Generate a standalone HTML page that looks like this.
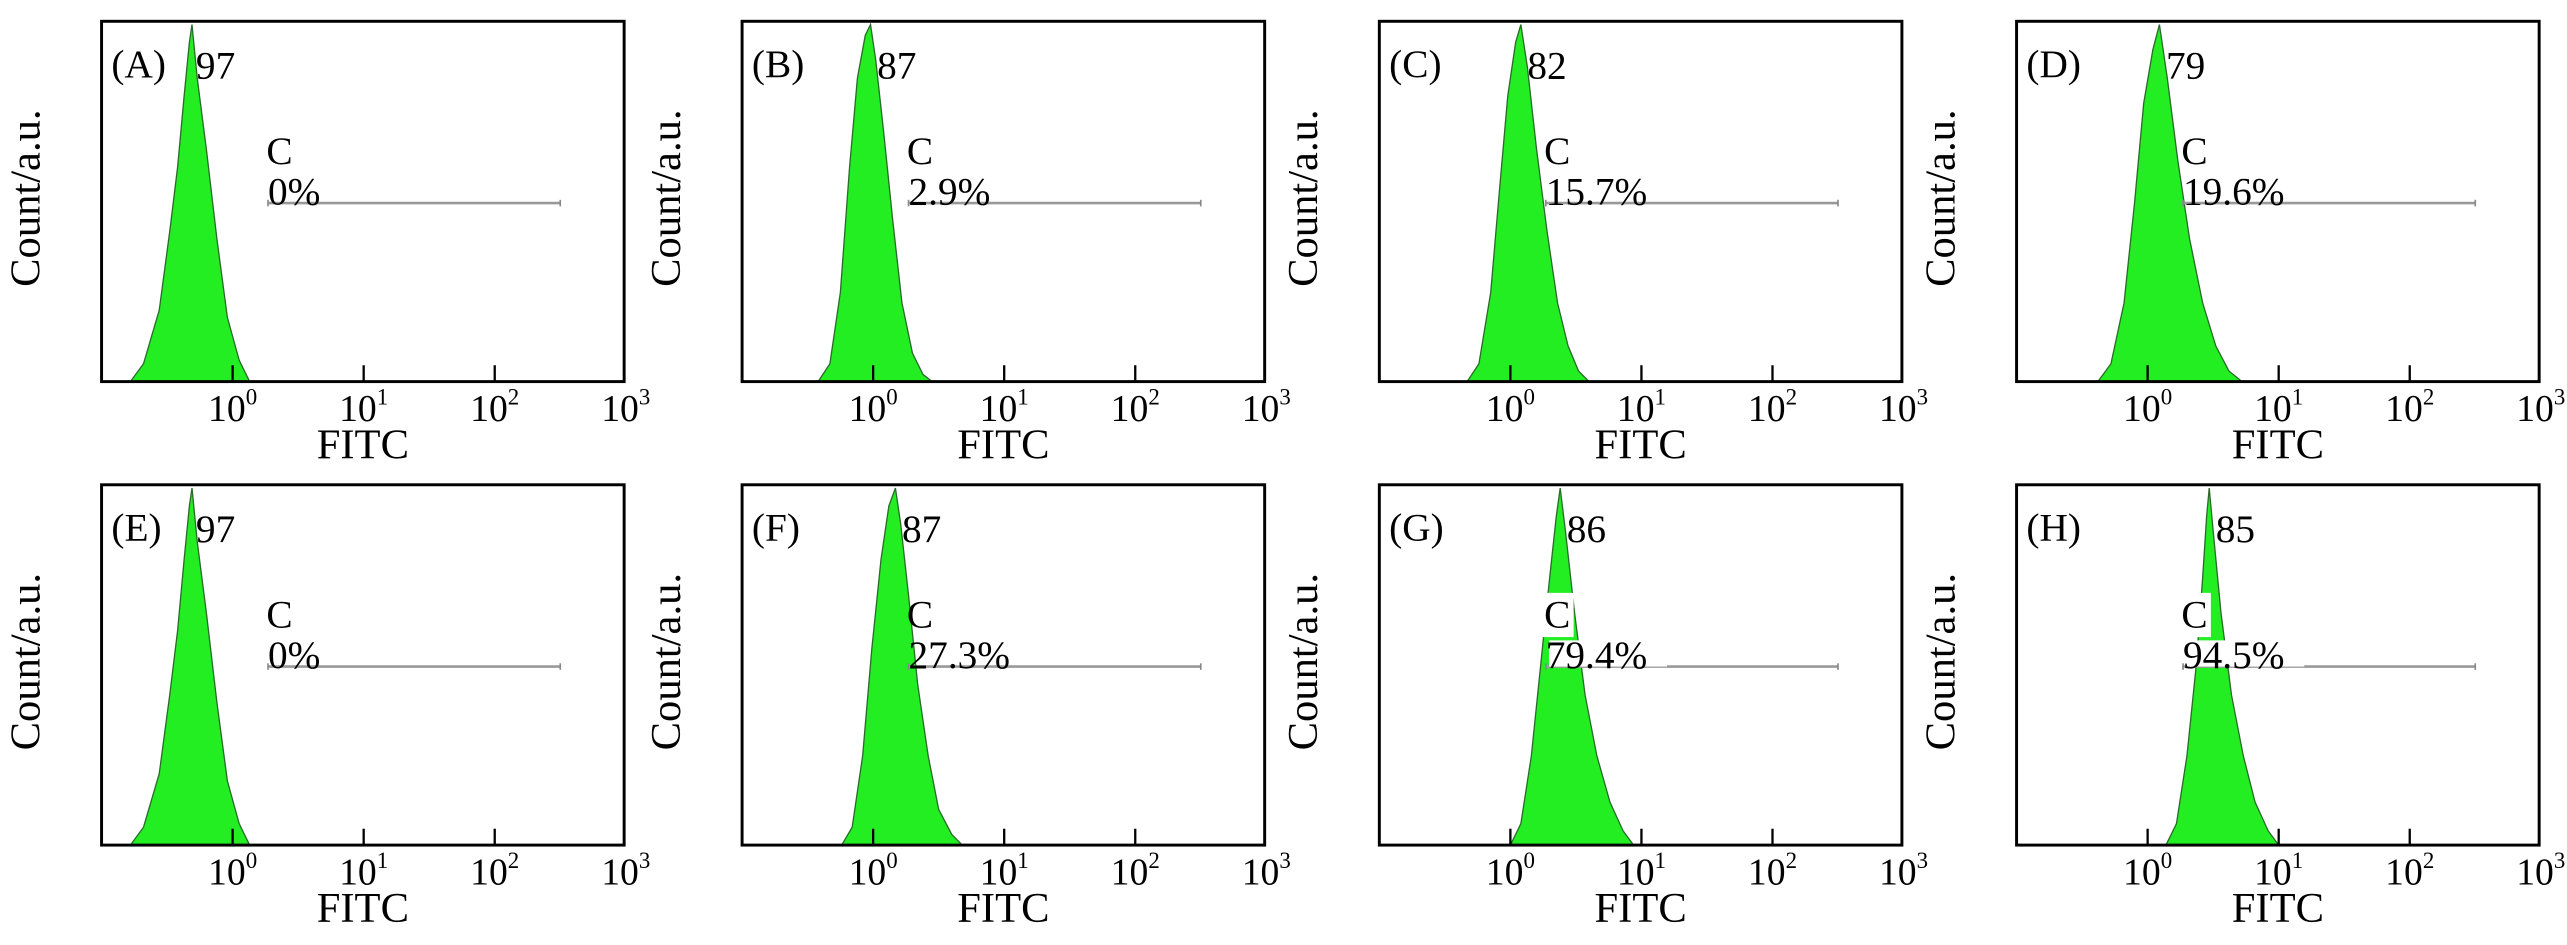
<!DOCTYPE html>
<html><head><meta charset="utf-8"><style>
html,body{margin:0;padding:0;background:#fff;}
svg{display:block;font-family:"Liberation Serif",serif;}
</style></head><body>
<svg id="fig" width="2567" height="945" viewBox="0 0 1567 577" preserveAspectRatio="none" xmlns="http://www.w3.org/2000/svg"></svg>
<script>
const panelLetters = ["A","B","C","D","E","F","G","H"];
const peakCounts = ["97","87","82","79","97","87","86","85"];
const gatePercents = ["0%","2.9%","15.7%","19.6%","0%","27.3%","79.4%","94.5%"];
const tickLabels = ["0","1","2","3"];
const tickLogs = [0,1,2,3];
const gateStartLog = 0.27;
const gateEndLog = 2.5;
const logA = [-0.78,-0.68,-0.56,-0.48,-0.42,-0.37,-0.33,-0.31,-0.27,-0.2,-0.12,-0.04,0.05,0.13];
const cntA = [0,5,20,42,60,80,95,100,85,65,40,18,6,0];
const logB = [-0.42,-0.33,-0.25,-0.18,-0.12,-0.06,-0.02,0.02,0.08,0.15,0.22,0.3,0.38,0.45];
const cntB = [0,5,25,60,85,97,100,90,70,45,22,8,2,0];
const logC = [-0.33,-0.24,-0.15,-0.08,-0.02,0.04,0.08,0.13,0.2,0.28,0.36,0.44,0.52,0.6];
const cntC = [0,5,25,55,80,95,100,88,65,42,22,10,3,0];
const logD = [-0.38,-0.28,-0.18,-0.1,-0.03,0.04,0.09,0.15,0.23,0.32,0.42,0.52,0.62,0.72];
const cntD = [0,5,22,50,78,93,100,85,62,40,22,10,3,0];
const logE = [-0.78,-0.68,-0.56,-0.48,-0.42,-0.37,-0.33,-0.31,-0.27,-0.2,-0.12,-0.04,0.05,0.13];
const cntE = [0,5,20,42,60,80,95,100,85,65,40,18,6,0];
const logF = [-0.24,-0.16,-0.08,-0.01,0.06,0.12,0.17,0.21,0.27,0.34,0.42,0.5,0.6,0.68];
const cntF = [0,5,25,55,80,95,100,90,70,45,25,10,3,0];
const logG = [0.0,0.08,0.16,0.23,0.3,0.35,0.38,0.42,0.49,0.57,0.66,0.76,0.86,0.94];
const cntG = [0,6,25,50,75,92,100,88,65,42,25,12,4,0];
const logH = [0.14,0.22,0.3,0.37,0.42,0.45,0.47,0.5,0.56,0.64,0.73,0.82,0.92,1.0];
const cntH = [0,6,25,50,75,92,100,88,65,42,25,12,4,0];
const allLogs = [logA,logB,logC,logD,logE,logF,logG,logH];
const allCnts = [cntA,cntB,cntC,cntD,cntE,cntF,cntG,cntH];

const NS = "http://www.w3.org/2000/svg";
const svg = document.getElementById("fig");
function mk(tag, attrs, parent){
  const e = document.createElementNS(NS, tag);
  for (const k in attrs) e.setAttribute(k, attrs[k]);
  (parent||svg).appendChild(e);
  return e;
}
const lefts = [62,453,842,1231];
const tops = [13,296];
const W = 319, H = 220;

for (let i=0;i<8;i++){
  const L = lefts[i%4], T = tops[Math.floor(i/4)], B = T+H;
  const g = mk("g",{});
  
  
  const xs = v => L + 80 + v*80;
  const ys = c => B - c/100*(H-2);
  let d = "M"+xs(allLogs[i][0])+","+B;
  allLogs[i].forEach((v,j)=>{ d += " L"+xs(v).toFixed(1)+","+ys(allCnts[i][j]).toFixed(1); });
  d += " L"+xs(allLogs[i][allLogs[i].length-1])+","+B+" Z";
  const hist = mk("path",{d:d,fill:"#22ee22",stroke:"#2a6a2a","stroke-width":0.8},g);
  
  
  const gy = T + 111;
  const gate = mk("line",{x1:xs(gateStartLog),x2:xs(gateEndLog),y1:gy,y2:gy,stroke:"#999","stroke-width":1.6},g);
  
  
  mk("line",{x1:xs(gateStartLog),x2:xs(gateStartLog),y1:gy-2,y2:gy+2,stroke:"#888","stroke-width":1},g);
  mk("line",{x1:xs(gateEndLog),x2:xs(gateEndLog),y1:gy-2,y2:gy+2,stroke:"#888","stroke-width":1},g);
  const gx = xs(gateStartLog);
  if (i>=6){
    mk("rect",{x:gx-2,y:T+66,width:19,height:27,fill:"#fff"},g);
    mk("rect",{x:gx+2,y:T+95,width:72,height:16,fill:"#fff"},g);
  }
  const cT = mk("text",{x:gx-1,y:T+87,"font-size":24},g); cT.textContent="C";
  
  
  const pT = mk("text",{x:gx,y:T+112,"font-size":24},g); pT.textContent=gatePercents[i];
  
  
  const fr = mk("rect",{x:L,y:T,width:W,height:H,fill:"none",stroke:"#000","stroke-width":1.8},g);
  
  
  const lT = mk("text",{x:L+6,y:T+34,"font-size":24},g); lT.textContent="("+panelLetters[i]+")";
  
  
  const pkX = xs(allLogs[i][6]) + 4;
  const kT = mk("text",{x:pkX,y:T+35,"font-size":24},g); kT.textContent=peakCounts[i];
  
  
  tickLogs.forEach((t,j)=>{
    const tx = xs(t);
    if (j<3) mk("line",{x1:tx,x2:tx,y1:B,y2:B-10,stroke:"#000","stroke-width":1.4},g);
    const tt = mk("text",{x:tx-15,y:B+24,"font-size":23},g);
    
    
    tt.textContent = "10";
    const sup = mk("tspan",{dy:-10,"font-size":14},tt); sup.textContent = tickLabels[j];
  });
  const ft = mk("text",{x:L+W/2,y:B+47,"font-size":26,"text-anchor":"middle"},g); ft.textContent="FITC";
  
  
  const yt = mk("text",{x:0,y:0,"font-size":26,"text-anchor":"middle",transform:"translate("+(L-38)+","+(T+108)+") rotate(-90)"},g);
  yt.textContent="Count/a.u.";
  
  
}
</script>
</body></html>
